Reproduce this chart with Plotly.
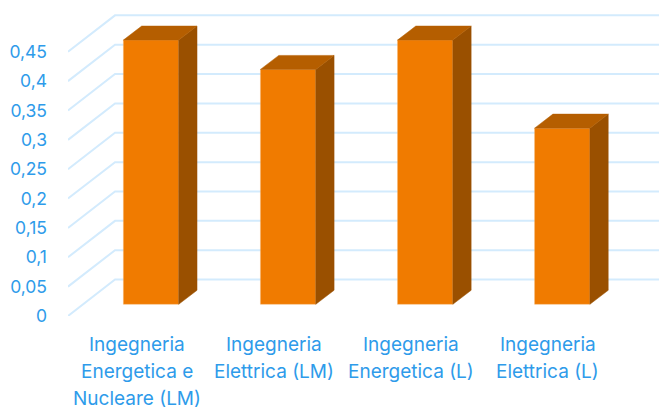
import plotly.graph_objects as go

# ---- data ----
categories = [
    ["Ingegneria", "Energetica e", "Nucleare (LM)"],
    ["Ingegneria", "Elettrica (LM)"],
    ["Ingegneria", "Energetica (L)"],
    ["Ingegneria", "Elettrica (L)"],
]
values = [0.45, 0.40, 0.45, 0.30]
tick_values = [0, 0.05, 0.1, 0.15, 0.2, 0.25, 0.3, 0.35, 0.4, 0.45]
tick_labels = ["0", "0,05", "0,1", "0,15", "0,2", "0,25", "0,3", "0,35", "0,4", "0,45"]

# ---- geometry / style ----
W, H = 659, 407
PX_PER_CAT = 137.0
PX_PER_VAL = 29.33 / 0.05
L, T, B = 68.3, 8, 315.7
FONT = "Inter"
TXT = "#2E9BEA"
GRID = "#D3EBFD"
FRONT, TOP, SIDE = "#F07B00", "#B55E00", "#9A5000"
xmin = (L - 137) / PX_PER_CAT
xmax = (W - 137) / PX_PER_CAT
ymax = (B - T) / PX_PER_VAL
wall_dx, wall_dy = 47 / PX_PER_CAT, 36.4 / PX_PER_VAL
bar_dx, bar_dy = 18.3 / PX_PER_CAT, 14 / PX_PER_VAL
bar_w = 55.3 / PX_PER_CAT
bar_off = 14.3 / PX_PER_CAT
bar_base = 11.7 / PX_PER_VAL

fig = go.Figure()
xs = [i + bar_off for i in range(len(values))]
fig.add_trace(go.Bar(x=xs, y=values, base=bar_base, width=bar_w,
                     marker=dict(color=FRONT, line=dict(color="#F6B26B", width=0.4)),
                     hoverinfo="skip"))
for x, v in zip(xs, values):
    x0, x1 = x - bar_w / 2, x + bar_w / 2
    top = v + bar_base
    fig.add_trace(go.Scatter(
        x=[x1, x1 + bar_dx, x1 + bar_dx, x1, x1],
        y=[bar_base, bar_base + bar_dy, top + bar_dy, top, bar_base],
        mode="lines", fill="toself", fillcolor=SIDE, line=dict(width=0.5, color=SIDE),
        hoverinfo="skip"))
    fig.add_trace(go.Scatter(
        x=[x0, x0 + bar_dx, x1 + bar_dx, x1, x0],
        y=[top, top + bar_dy, top + bar_dy, top, top],
        mode="lines", fill="toself", fillcolor=TOP, line=dict(width=0.5, color=TOP),
        hoverinfo="skip"))

for v in tick_values:
    path = f"M {xmin},{v} L {xmin + wall_dx},{v + wall_dy} L {xmax},{v + wall_dy}"
    fig.add_shape(type="path", path=path, xref="x", yref="y", layer="below",
                  line=dict(color=GRID, width=2))

for i, lines in enumerate(categories):
    for j, line in enumerate(lines):
        fig.add_annotation(x=i, y=0, xref="x", yref="y", text=line, showarrow=False,
                           xanchor="center", yanchor="middle",
                           yshift=-(28 + 27 * j),
                           font=dict(family=FONT, size=19, color=TXT))

fig.update_layout(
    width=W, height=H, showlegend=False,
    paper_bgcolor="white", plot_bgcolor="white",
    margin=dict(l=L, r=0, t=T, b=H - B, pad=0),
    xaxis=dict(range=[xmin, xmax], showgrid=False, zeroline=False, showline=False,
               showticklabels=False, ticks="", fixedrange=True),
    yaxis=dict(range=[0, ymax], showgrid=False, zeroline=False, showline=False,
               tickmode="array", tickvals=tick_values, ticktext=tick_labels,
               ticks="", ticklabelstandoff=20, automargin=False,
               tickfont=dict(family=FONT, size=17.5, color=TXT), fixedrange=True),
)
fig.write_html("out.html", config={"displayModeBar": False},
               post_script="document.body.style.margin='0';document.documentElement.style.overflow='hidden';")
